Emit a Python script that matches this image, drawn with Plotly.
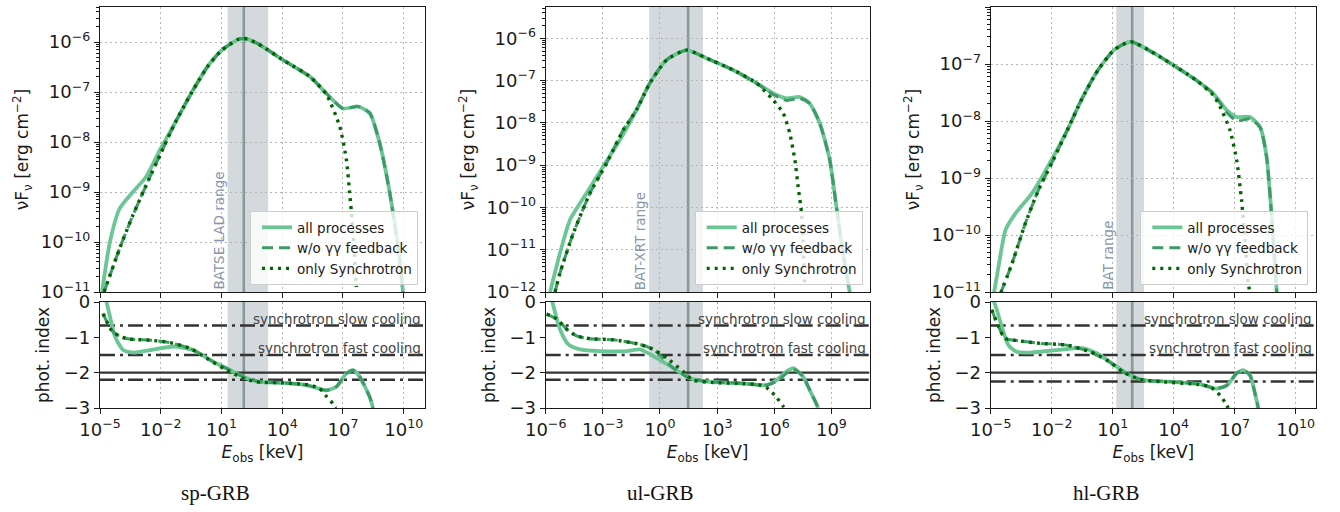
import numpy as np
import plotly.graph_objects as go

# ------------------------------------------------------------------
# DATA  (energies: log10(E_obs / keV); fluxes: log10(nuF_nu / erg cm^-2))
# ------------------------------------------------------------------
captions = ["sp-GRB", "ul-GRB", "hl-GRB"]
band_labels = ["BATSE LAD range", "BAT-XRT range", "BAT range"]
band_lo_keV = [20.0, 0.27, 15.0]
band_hi_keV = [2000.0, 180.0, 350.0]
peak_keV = [126.0, 30.0, 91.0]
extra_index_line = [-2.2, -2.2, -2.25]
slow_cooling_index = -2.0 / 3.0
fast_cooling_index = -1.5
reference_index = -2.0

# --- sp-GRB spectrum ---
sp_all_logE = [-4.9, -4.51, -4.03, -3.38, -2.73, -2.0, -1.27, -0.46, 0.35, 1.0, 1.81, 2.14, 2.78, 4.04, 5.36, 6.18, 7.0, 7.74, 8.32, 8.81, 9.31, 9.8, 9.96]
sp_all_logF = [-11.0, -10.0, -9.33, -9.0, -8.70, -8.13, -7.6, -7.0, -6.47, -6.17, -5.95, -5.93, -6.03, -6.36, -6.69, -7.03, -7.33, -7.29, -7.42, -8.02, -9.02, -10.36, -11.0]
sp_wo_logE = [-4.8, -4.03, -3.38, -2.57, -2.0, -1.27, -0.46, 0.35, 1.0, 1.81, 2.14, 2.78, 4.04, 5.36, 6.18, 7.0, 7.74, 8.32, 8.81, 9.31, 9.8, 9.96]
sp_wo_logF = [-11.0, -10.13, -9.47, -8.73, -8.23, -7.6, -7.0, -6.47, -6.17, -5.95, -5.93, -6.03, -6.36, -6.69, -7.03, -7.33, -7.29, -7.42, -8.02, -9.02, -10.36, -11.0]
sp_syn_logE = [-4.8, -4.03, -3.38, -2.57, -2.0, -1.27, -0.46, 0.35, 1.0, 1.81, 2.14, 2.78, 4.04, 5.36, 6.18, 6.84, 7.17, 7.33, 7.5, 7.66]
sp_syn_logF = [-11.0, -10.13, -9.47, -8.73, -8.23, -7.6, -7.0, -6.47, -6.17, -5.95, -5.93, -6.03, -6.36, -6.69, -7.05, -7.69, -8.36, -9.02, -9.82, -10.9]
# --- sp-GRB photon index ---
sp_all_idx_logE = [-4.8, -4.51, -4.26, -3.85, -3.36, -2.53, -1.38, -0.40, 0.59, 1.58, 2.24, 2.89, 4.04, 5.19, 6.18, 6.67, 7.17, 7.5, 7.83, 8.32, 8.48]
sp_all_idx = [0.3, -0.41, -0.98, -1.36, -1.43, -1.36, -1.26, -1.36, -1.69, -1.97, -2.16, -2.26, -2.29, -2.35, -2.50, -2.40, -2.02, -1.93, -2.12, -2.69, -3.0]
sp_wo_idx_logE = [-4.85, -4.43, -4.01, -3.52, -2.53, -1.55, -0.56, 0.59, 1.58, 2.24, 2.89, 4.04, 5.19, 6.18, 6.67, 7.17, 7.5, 7.83, 8.32, 8.48]
sp_wo_idx = [-0.33, -0.80, -0.98, -1.05, -1.08, -1.15, -1.31, -1.69, -1.97, -2.16, -2.26, -2.29, -2.35, -2.50, -2.40, -2.02, -1.93, -2.12, -2.69, -3.0]
sp_syn_idx_logE = [-4.85, -4.43, -4.01, -3.52, -2.53, -1.55, -0.56, 0.26, 1.25, 2.07, 2.72, 4.04, 5.36, 5.85, 6.18, 6.51, 6.65]
sp_syn_idx = [-0.33, -0.80, -0.98, -1.05, -1.08, -1.15, -1.31, -1.59, -1.93, -2.16, -2.26, -2.29, -2.35, -2.45, -2.67, -2.88, -3.0]

# --- ul-GRB spectrum ---
ul_all_logE = [-5.77, -5.25, -4.72, -3.85, -2.98, -2.10, -1.23, -0.53, 0.35, 1.40, 2.44, 3.84, 5.07, 5.94, 6.64, 7.34, 7.86, 8.39, 8.91, 9.26, 9.61, 9.96]
ul_all_logF = [-12.0, -11.08, -10.29, -9.66, -9.03, -8.40, -7.69, -7.06, -6.51, -6.28, -6.47, -6.75, -7.06, -7.30, -7.42, -7.39, -7.54, -8.01, -8.87, -9.98, -11.08, -12.0]
ul_wo_logE = [-5.51, -5.25, -4.55, -3.67, -2.80, -1.93, -1.23, -0.53, 0.35, 1.40, 2.44, 3.84, 5.07, 5.94, 6.64, 7.34, 7.86, 8.39, 8.91, 9.26, 9.61, 9.96]
ul_wo_logF = [-12.0, -11.55, -10.61, -9.66, -8.95, -8.17, -7.69, -7.06, -6.51, -6.28, -6.47, -6.75, -7.06, -7.33, -7.47, -7.42, -7.54, -8.01, -8.87, -9.98, -11.08, -12.0]
ul_syn_logE = [-5.51, -5.25, -4.55, -3.67, -2.80, -1.93, -1.23, -0.53, 0.35, 1.40, 2.44, 3.84, 5.07, 5.94, 6.47, 6.81, 7.08, 7.25, 7.43, 7.51, 7.60]
ul_syn_logF = [-12.0, -11.55, -10.61, -9.66, -8.95, -8.17, -7.69, -7.06, -6.51, -6.28, -6.47, -6.75, -7.06, -7.46, -7.77, -8.24, -8.87, -9.50, -10.13, -10.76, -11.87]
# --- ul-GRB photon index ---
ul_all_idx_logE = [-5.72, -5.25, -4.81, -4.20, -3.15, -1.75, -1.05, -0.35, 0.70, 1.57, 2.44, 4.19, 5.59, 6.12, 6.64, 6.99, 7.51, 7.86, 8.21, 8.30]
ul_all_idx = [0.15, -0.77, -1.20, -1.34, -1.39, -1.39, -1.34, -1.53, -1.87, -2.16, -2.25, -2.30, -2.35, -2.21, -1.97, -1.87, -2.11, -2.49, -2.88, -3.0]
ul_wo_idx_logE = [-5.95, -5.42, -4.90, -4.37, -3.67, -2.45, -1.05, -0.35, 0.70, 1.57, 2.44, 4.19, 5.59, 6.12, 6.64, 6.99, 7.51, 7.86, 8.21, 8.30]
ul_wo_idx = [-0.34, -0.48, -0.77, -0.96, -1.04, -1.07, -1.20, -1.34, -1.87, -2.16, -2.25, -2.30, -2.35, -2.25, -2.02, -1.90, -2.11, -2.49, -2.88, -3.0]
ul_syn_idx_logE = [-5.95, -5.42, -4.90, -4.37, -3.67, -2.45, -1.05, -0.35, 0.35, 1.22, 1.74, 2.79, 4.19, 5.24, 5.59, 6.03, 6.47, 6.55]
ul_syn_idx = [-0.34, -0.48, -0.77, -0.96, -1.04, -1.07, -1.20, -1.34, -1.58, -1.97, -2.21, -2.28, -2.30, -2.35, -2.42, -2.64, -2.95, -3.0]

# --- hl-GRB spectrum ---
hl_all_logE = [-4.84, -4.59, -4.27, -3.78, -2.97, -2.0, -1.19, -0.54, 0.27, 1.08, 1.89, 3.03, 3.98, 5.13, 5.95, 6.61, 7.10, 7.75, 8.25, 8.57, 8.82, 9.07]
hl_all_logF = [-11.02, -10.50, -9.91, -9.62, -9.27, -8.68, -8.13, -7.63, -7.11, -6.75, -6.61, -6.81, -7.02, -7.29, -7.52, -7.81, -7.93, -7.93, -8.11, -8.63, -9.68, -11.01]
hl_wo_logE = [-4.51, -3.95, -3.30, -2.65, -2.0, -1.19, -0.54, 0.27, 1.08, 1.89, 3.03, 3.98, 5.13, 5.95, 6.61, 7.10, 7.75, 8.25, 8.57, 8.82, 9.07]
hl_wo_logF = [-11.02, -10.50, -9.80, -9.21, -8.74, -8.13, -7.63, -7.11, -6.75, -6.61, -6.81, -7.02, -7.29, -7.52, -7.85, -8.0, -7.96, -8.11, -8.63, -9.68, -11.01]
hl_syn_logE = [-4.51, -3.95, -3.30, -2.65, -2.0, -1.19, -0.54, 0.27, 1.08, 1.89, 3.03, 3.98, 5.13, 5.95, 6.28, 6.77, 7.10, 7.34, 7.51, 7.67, 7.75]
hl_syn_logF = [-11.02, -10.50, -9.80, -9.21, -8.74, -8.13, -7.63, -7.11, -6.75, -6.61, -6.81, -7.02, -7.29, -7.55, -7.75, -8.16, -8.69, -9.39, -10.09, -10.85, -11.01]
# --- hl-GRB photon index ---
hl_all_idx_logE = [-4.95, -4.70, -4.46, -4.13, -3.72, -3.07, -1.75, -0.44, 0.21, 1.20, 1.85, 2.51, 3.98, 5.30, 6.11, 6.61, 7.10, 7.43, 7.75, 8.00, 8.16]
hl_all_idx = [0.2, -0.22, -0.69, -1.22, -1.41, -1.43, -1.36, -1.31, -1.45, -1.83, -2.07, -2.21, -2.26, -2.33, -2.45, -2.36, -2.02, -1.93, -2.07, -2.59, -3.0]
hl_wo_idx_logE = [-4.95, -4.62, -4.30, -3.72, -2.57, -1.26, -0.11, 0.70, 1.52, 2.34, 3.98, 5.30, 6.11, 6.61, 7.10, 7.43, 7.75, 8.00, 8.16]
hl_wo_idx = [-0.22, -0.69, -1.03, -1.09, -1.17, -1.22, -1.41, -1.64, -1.98, -2.19, -2.26, -2.33, -2.45, -2.36, -2.02, -1.93, -2.07, -2.59, -3.0]
hl_syn_idx_logE = [-4.95, -4.62, -4.30, -3.72, -2.57, -1.26, -0.11, 0.70, 1.52, 2.34, 3.49, 5.13, 5.79, 6.28, 6.61, 6.68]
hl_syn_idx = [-0.22, -0.69, -1.03, -1.09, -1.17, -1.22, -1.41, -1.64, -1.98, -2.19, -2.26, -2.33, -2.40, -2.64, -2.92, -3.0]

# axis ranges (log10) and tick exponents
x_ranges = [(-5.0, 11.05), (-6.0, 11.0), (-5.0, 11.0)]
x_tick_exp = [[-5, -2, 1, 4, 7, 10], [-6, -3, 0, 3, 6, 9], [-5, -2, 1, 4, 7, 10]]
y_ranges = [(-11.0, -5.3), (-12.0, -5.26), (-11.0, -6.0)]
y_tick_exp = [[-11, -10, -9, -8, -7, -6], [-12, -11, -10, -9, -8, -7, -6], [-11, -10, -9, -8, -7, -6]]

series = [
    dict(all=(sp_all_logE, sp_all_logF), wo=(sp_wo_logE, sp_wo_logF), syn=(sp_syn_logE, sp_syn_logF),
         all_i=(sp_all_idx_logE, sp_all_idx), wo_i=(sp_wo_idx_logE, sp_wo_idx), syn_i=(sp_syn_idx_logE, sp_syn_idx)),
    dict(all=(ul_all_logE, ul_all_logF), wo=(ul_wo_logE, ul_wo_logF), syn=(ul_syn_logE, ul_syn_logF),
         all_i=(ul_all_idx_logE, ul_all_idx), wo_i=(ul_wo_idx_logE, ul_wo_idx), syn_i=(ul_syn_idx_logE, ul_syn_idx)),
    dict(all=(hl_all_logE, hl_all_logF), wo=(hl_wo_logE, hl_wo_logF), syn=(hl_syn_logE, hl_syn_logF),
         all_i=(hl_all_idx_logE, hl_all_idx), wo_i=(hl_wo_idx_logE, hl_wo_idx), syn_i=(hl_syn_idx_logE, hl_syn_idx)),
]

# ------------------------------------------------------------------
# STYLE / LAYOUT
# ------------------------------------------------------------------
W, H = 1340, 512
C_ALL = "#6cc595"
C_WO = "#3d9a66"
C_SYN = "#006400"
C_AX = "#1a1a1a"
C_GRID = "#b5b5b5"
C_HL = "#333333"
FONT = "DejaVu Sans"
DASHDOT = "15px,5px,3px,5px"

x_px = [(100, 425), (545.7, 869.5), (990.7, 1316)]
top_px = (7, 292)
bot_px = (302, 408)
legend_right_px = [418, 862.7, 1308.3]
caption_x_px = [215, 660, 1106]


def px2x(p):
    return p / W


def py2y(p):
    return 1 - p / H


def sup(e):
    s = str(e).replace("-", "\u2212")
    return "10<sup>" + s + "</sup>"


def nm(prefix, n):
    return prefix if n == 1 else f"{prefix}{n}"


fig = go.Figure()
shapes, annotations = [], []
layout = dict(
    width=W, height=H, margin=dict(l=0, r=0, t=0, b=0, autoexpand=False),
    paper_bgcolor="white", plot_bgcolor="white",
    font=dict(family=FONT, size=18, color=C_AX),
    showlegend=True,
)

for i in range(3):
    nt, nb = 2 * i + 1, 2 * i + 2
    xt, yt, xb, yb = nm("x", nt), nm("y", nt), nm("x", nb), nm("y", nb)
    leg = "legend" if i == 0 else f"legend{i + 1}"
    s = series[i]
    xr = list(x_ranges[i])

    # --- horizontal reference lines in index panel (drawn first, under curves) ---
    xspan = [10.0 ** xr[0], 10.0 ** xr[1]]
    for yv, dash in [(slow_cooling_index, DASHDOT), (fast_cooling_index, DASHDOT),
                     (reference_index, "solid"), (extra_index_line[i], DASHDOT)]:
        fig.add_trace(go.Scatter(
            x=xspan, y=[yv, yv], mode="lines", showlegend=False, hoverinfo="skip",
            line=dict(color=C_HL, width=2.4, dash=dash), xaxis=xb, yaxis=yb))

    # --- top panel traces ---
    for key, label, color, width, dash in [
        ("all", "all processes", C_ALL, 3.8, "solid"),
        ("wo", "w/o \u03b3\u03b3 feedback", C_WO, 3.0, "11px,6px"),
        ("syn", "only Synchrotron", C_SYN, 3.4, "3px,5px"),
    ]:
        lx, ly = s[key]
        fig.add_trace(go.Scatter(
            x=10 ** np.array(lx), y=10 ** np.array(ly), mode="lines", name=label,
            line=dict(color=color, width=width, dash=dash, shape="spline", smoothing=0.6),
            xaxis=xt, yaxis=yt, legend=leg, hoverinfo="skip"))
    # --- bottom panel traces ---
    for key, color, width, dash in [
        ("all_i", C_ALL, 3.8, "solid"),
        ("wo_i", C_WO, 3.0, "11px,6px"),
        ("syn_i", C_SYN, 3.4, "3px,5px"),
    ]:
        lx, ly = s[key]
        fig.add_trace(go.Scatter(
            x=10 ** np.array(lx), y=np.array(ly), mode="lines", showlegend=False,
            line=dict(color=color, width=width, dash=dash, shape="spline", smoothing=0.6),
            xaxis=xb, yaxis=yb, hoverinfo="skip"))

    xdom = [px2x(x_px[i][0]), px2x(x_px[i][1])]
    xtv = [10.0 ** e for e in x_tick_exp[i]]
    xtt = [sup(e) for e in x_tick_exp[i]]
    yr = list(y_ranges[i])
    ytv = [10.0 ** e for e in y_tick_exp[i]]
    ytt = [sup(e) for e in y_tick_exp[i]]
    minor_vals = [k * 10.0 ** d for d in range(int(np.floor(yr[0])), int(np.ceil(yr[1]))) for k in range(2, 10)]

    common_ax = dict(showline=True, linecolor=C_AX, linewidth=1.2, mirror=True, automargin=False,
                     ticks="outside", ticklen=5, tickwidth=1.1, tickcolor=C_AX, zeroline=False)
    grid = dict(showgrid=True, gridcolor=C_GRID, griddash="2px,3px", gridwidth=1)

    layout["xaxis" if nt == 1 else f"xaxis{nt}"] = dict(
        common_ax, **grid, type="log", domain=xdom, anchor=yt, range=xr,
        tickmode="array", tickvals=xtv, showticklabels=False)
    layout["yaxis" if nt == 1 else f"yaxis{nt}"] = dict(
        common_ax, **grid, type="log", domain=[py2y(top_px[1]), py2y(top_px[0])], anchor=xt, range=yr,
        tickmode="array", tickvals=ytv, ticktext=ytt,
        minor=dict(tickmode="array", tickvals=minor_vals, ticks="outside", ticklen=2.5,
                   tickwidth=0.8, tickcolor=C_AX, showgrid=False),
        title=dict(text="\u03bdF<sub>\u03bd</sub> [erg cm<sup>\u22122</sup>]", standoff=7,
                   font=dict(size=17)))
    layout[f"xaxis{nb}"] = dict(
        common_ax, **grid, type="log", domain=xdom, anchor=yb, range=xr,
        tickmode="array", tickvals=xtv, ticktext=xtt,
        title=dict(text="<i>E</i><sub>obs</sub> [keV]", standoff=7, font=dict(size=17)))
    layout[f"yaxis{nb}"] = dict(
        common_ax, domain=[py2y(bot_px[1]), py2y(bot_px[0])], anchor=xb, range=[-3, 0],
        tickmode="array", tickvals=[0, -1, -2, -3], ticktext=["0", "\u22121", "\u22122", "\u22123"],
        showgrid=False,
        title=dict(text="phot. index", standoff=9, font=dict(size=17)))

    # legend
    layout[leg] = dict(
        x=px2x(legend_right_px[i]), xanchor="right", y=py2y(285), yanchor="bottom",
        bgcolor="rgba(255,255,255,0.8)", bordercolor="#cccccc", borderwidth=1,
        font=dict(size=13.5, family=FONT, color=C_AX), tracegroupgap=0, indentation=6)

    # band + peak line in both panels (shape x given in data units on log axes)
    for xa, ya in [(xt, yt), (xb, yb)]:
        shapes.append(dict(type="rect", xref=xa, yref=ya + " domain",
                           x0=band_lo_keV[i], x1=band_hi_keV[i], y0=0, y1=1,
                           fillcolor="#708090", opacity=0.3, line=dict(width=0), layer="below"))
        shapes.append(dict(type="line", xref=xa, yref=ya + " domain",
                           x0=peak_keV[i], x1=peak_keV[i], y0=0, y1=1,
                           line=dict(color="#6f8580", width=2.6), opacity=0.75, layer="below"))
    annotations.append(dict(
        text=band_labels[i], xref=xt, yref=yt + " domain", x=np.log10(band_lo_keV[i]), y=0.0,
        xanchor="right", yanchor="bottom", textangle=-90, showarrow=False, xshift=1,
        font=dict(size=13.5, color="#8796ad", family=FONT)))

    for yv, txt in [(slow_cooling_index, "synchrotron slow cooling"),
                    (fast_cooling_index, "synchrotron fast cooling")]:
        annotations.append(dict(
            text=txt, xref=xb + " domain", yref=yb, x=0.995, y=yv, xanchor="right", yanchor="bottom",
            yshift=-3, showarrow=False, font=dict(size=13.5, color="#444444", family=FONT)))

    # caption
    annotations.append(dict(
        text=captions[i], xref="paper", yref="paper", x=px2x(caption_x_px[i]), y=py2y(493),
        xanchor="center", yanchor="middle", showarrow=False,
        font=dict(size=21, family="Liberation Serif", color="#111111")))

layout["shapes"] = shapes
layout["annotations"] = annotations
fig.update_layout(**layout)
fig.write_html("out.html")
